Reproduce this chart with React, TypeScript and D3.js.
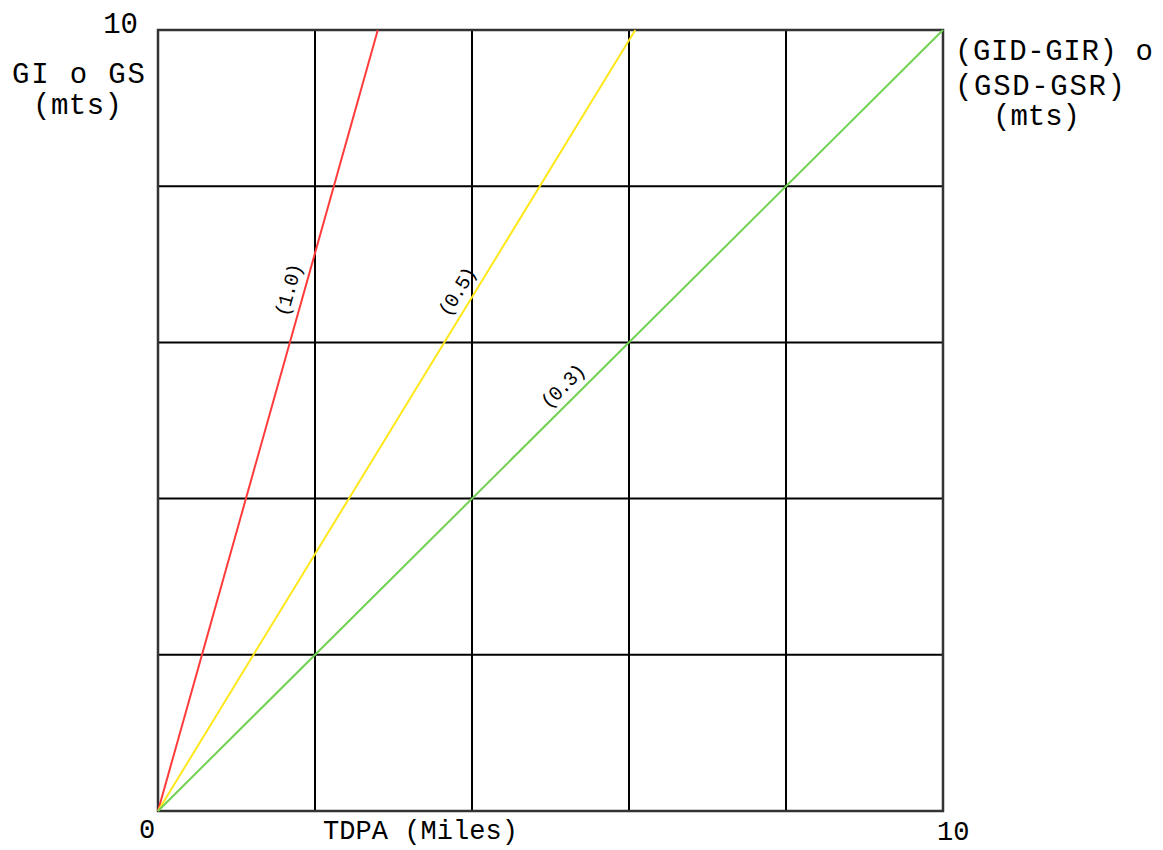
import React from 'react';
import * as d3 from 'd3';

// chart values
const gridTicks = [0, 2, 4, 6, 8, 10];
const lineLabels = ['(1.0)', '(0.5)', '(0.3)'];
const lineColors = ['#ff3b3b', '#ffe81a', '#72d152'];
const lineEndX = [2.8, 6.08, 10]; // TDPA where each line reaches 10
const lineEndY = [10, 10, 10];
const labelAtY = [6.62, 6.55, 5.3]; // where the label sits along its line

const W = 1163;
const H = 850;
const FONT = '"Liberation Mono", "DejaVu Sans Mono", monospace';

const App = () => {
  const x = d3.scaleLinear().domain([0, 10]).range([158, 943]);
  const y = d3.scaleLinear().domain([0, 10]).range([811, 30]);

  const line = d3.line<[number, number]>()
    .x(d => x(d[0]))
    .y(d => y(d[1]));

  return (
    <svg width={W} height={H} style={{ position: 'absolute', left: 0, top: 0, background: '#fff' }}>
      {/* grid */}
      <g stroke="#000" strokeWidth={2}>
        {gridTicks.map(t => (
          <line key={'v' + t} x1={x(t)} x2={x(t)} y1={y(0)} y2={y(10)} />
        ))}
        {gridTicks.map(t => (
          <line key={'h' + t} x1={x(0)} x2={x(10)} y1={y(t)} y2={y(t)} />
        ))}
      </g>
      <rect x={x(0)} y={y(10)} width={x(10) - x(0)} height={y(0) - y(10)}
        fill="none" stroke="#333" strokeWidth={2.5} />

      {/* lines */}
      {lineLabels.map((lab, i) => {
        const pts: [number, number][] = [[0, 0], [lineEndX[i], lineEndY[i]]];
        const slope = lineEndY[i] / lineEndX[i];
        const ly = labelAtY[i];
        const lx = ly / slope;
        const px = x(lx), py = y(ly);
        const ang = Math.atan2(y(lineEndY[i]) - y(0), x(lineEndX[i]) - x(0)) * 180 / Math.PI;
        return (
          <g key={lab}>
            <path d={line(pts) || ''} fill="none" stroke={lineColors[i]} strokeWidth={2} />
            <text x={px} y={py} transform={`rotate(${ang},${px},${py})`}
              dy={-9} textAnchor="middle" fontFamily={FONT} fontSize={20}
              textLength={54} lengthAdjust="spacing" fill="#000">
              {lab}
            </text>
          </g>
        );
      })}

      {/* axis text */}
      <g fontFamily={FONT} fill="#000" fontSize={29}>
        <text x={138} y={33} textAnchor="end">10</text>
        <text x={12} y={83} textLength={133} lengthAdjust="spacing">GI o GS</text>
        <text x={33} y={114} textLength={89} lengthAdjust="spacing">(mts)</text>

        <text x={955} y={60} textLength={198} lengthAdjust="spacing">(GID-GIR) o</text>
        <text x={955} y={95} textLength={170} lengthAdjust="spacing">(GSD-GSR)</text>
        <text x={993} y={125} textLength={87} lengthAdjust="spacing">(mts)</text>
      </g>
      <g fontFamily={FONT} fill="#000" fontSize={27}>
        <text x={139} y={838}>0</text>
        <text x={323} y={839} textLength={195} lengthAdjust="spacing">TDPA (Miles)</text>
        <text x={937} y={840}>10</text>
      </g>
    </svg>
  );
};

export default App;
